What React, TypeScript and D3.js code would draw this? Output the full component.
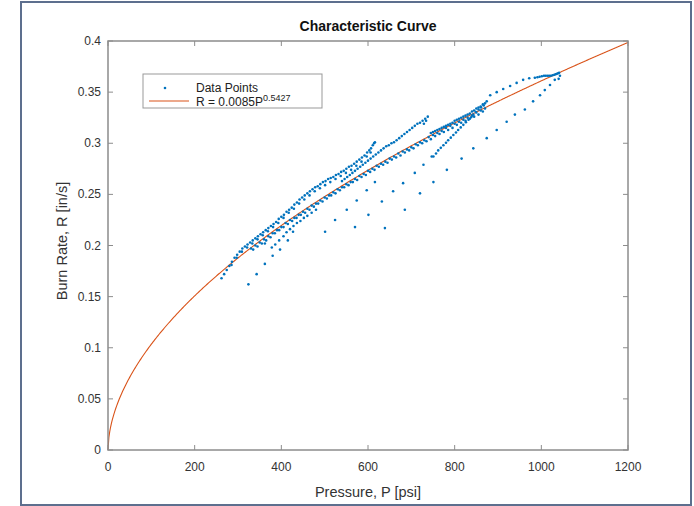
import React from 'react'
import * as d3 from 'd3'

// fit: R = a * P^b
const fitCoef = 0.0085
const fitExp = 0.5427

const xTicks = [0, 200, 400, 600, 800, 1000, 1200]
const yTicks = [0, 0.05, 0.1, 0.15, 0.2, 0.25, 0.3, 0.35, 0.4]

// burn traces, [P psi, R in/s]
const upperBand = [
  [262, 0.168], [268, 0.172], [274, 0.176], [280, 0.18], [286, 0.184], [292, 0.188],
  [298, 0.191], [304, 0.194], [310, 0.197], [316, 0.199], [322, 0.201], [328, 0.203],
  [334, 0.205], [340, 0.207], [346, 0.209], [352, 0.211], [358, 0.213], [364, 0.215],
  [370, 0.217], [376, 0.219], [382, 0.221], [388, 0.223], [394, 0.226], [400, 0.228],
  [406, 0.23], [412, 0.233], [418, 0.235], [424, 0.237], [430, 0.24], [436, 0.242],
  [442, 0.245], [448, 0.247], [454, 0.249], [460, 0.251], [466, 0.253], [472, 0.255],
  [478, 0.257], [484, 0.258], [490, 0.26], [496, 0.262], [502, 0.263], [508, 0.265],
  [514, 0.266], [520, 0.267], [526, 0.269], [532, 0.27], [538, 0.272], [544, 0.273],
  [550, 0.275], [556, 0.277], [562, 0.278], [568, 0.28], [574, 0.282], [580, 0.284],
  [586, 0.286], [592, 0.288], [598, 0.291], [603, 0.293], [607, 0.295], [611, 0.298],
  [614, 0.3], [616, 0.301]
]

const upperBandB = [
  [285, 0.181], [297, 0.188], [309, 0.194], [321, 0.198], [333, 0.202], [345, 0.206],
  [357, 0.21], [369, 0.214], [381, 0.218], [393, 0.222], [405, 0.227], [417, 0.232],
  [429, 0.236], [441, 0.241], [453, 0.245], [465, 0.249], [477, 0.253], [489, 0.256],
  [501, 0.259], [513, 0.262], [525, 0.265], [537, 0.268], [549, 0.271], [561, 0.274],
  [573, 0.278], [585, 0.282], [597, 0.287], [606, 0.291]
]

const mainBand = [
  [330, 0.197], [340, 0.2], [350, 0.203], [360, 0.206], [370, 0.209], [380, 0.212],
  [390, 0.215], [400, 0.218], [410, 0.222], [420, 0.225], [430, 0.227], [440, 0.23],
  [450, 0.233], [460, 0.236], [470, 0.239], [480, 0.241], [490, 0.244], [500, 0.247],
  [510, 0.249], [520, 0.252], [530, 0.255], [540, 0.257], [550, 0.26], [560, 0.262],
  [570, 0.265], [580, 0.268], [590, 0.27], [600, 0.273], [610, 0.275], [620, 0.278],
  [630, 0.28], [640, 0.282], [650, 0.285], [660, 0.287], [670, 0.29], [680, 0.292],
  [690, 0.294], [700, 0.296], [710, 0.299], [720, 0.301], [730, 0.303], [740, 0.306],
  [750, 0.308], [760, 0.31], [770, 0.312], [780, 0.315], [790, 0.317], [800, 0.319],
  [810, 0.321], [820, 0.323], [830, 0.325], [840, 0.327], [850, 0.33], [860, 0.332],
  [870, 0.334]
]

const mainBandB = [
  [335, 0.196], [345, 0.199], [355, 0.202], [365, 0.205], [375, 0.208], [385, 0.212],
  [395, 0.215], [405, 0.218], [415, 0.221], [425, 0.224], [435, 0.227], [445, 0.23],
  [455, 0.232], [465, 0.235], [475, 0.238], [485, 0.241], [495, 0.243], [505, 0.246],
  [515, 0.249], [525, 0.251], [535, 0.254], [545, 0.257], [555, 0.259], [565, 0.262],
  [575, 0.264], [585, 0.267], [595, 0.269], [605, 0.272], [615, 0.274], [625, 0.277],
  [635, 0.279], [645, 0.281], [655, 0.284], [665, 0.286], [675, 0.288], [685, 0.291],
  [695, 0.293], [705, 0.295], [715, 0.298], [725, 0.3], [735, 0.302], [745, 0.304],
  [755, 0.307], [765, 0.309], [775, 0.311], [785, 0.313], [795, 0.315], [805, 0.318],
  [815, 0.32], [825, 0.322], [835, 0.324], [845, 0.326], [855, 0.328], [865, 0.331]
]

const lowCluster = [
  [378, 0.198], [386, 0.201], [395, 0.205], [405, 0.209], [412, 0.213], [420, 0.216],
  [428, 0.219], [436, 0.222], [444, 0.224], [452, 0.227], [460, 0.229], [470, 0.232],
  [480, 0.235]
]

const loop2 = [
  [540, 0.263], [546, 0.265], [552, 0.267], [558, 0.269], [564, 0.271], [570, 0.273],
  [576, 0.275], [582, 0.277], [588, 0.279], [594, 0.281], [600, 0.283], [606, 0.285],
  [612, 0.287], [618, 0.289], [624, 0.291], [630, 0.293], [636, 0.295], [642, 0.297],
  [648, 0.298], [654, 0.3], [660, 0.301], [666, 0.303], [672, 0.305], [678, 0.307],
  [684, 0.309], [690, 0.311], [696, 0.313], [702, 0.315], [708, 0.317], [714, 0.319],
  [720, 0.32], [726, 0.322], [732, 0.324], [738, 0.326], [734, 0.322], [729, 0.319]
]

const loop3 = [
  [745, 0.31], [750, 0.311], [755, 0.312], [760, 0.313], [765, 0.314], [770, 0.315],
  [775, 0.316], [780, 0.317], [785, 0.318], [790, 0.319], [795, 0.32], [800, 0.322],
  [805, 0.323], [810, 0.324], [815, 0.325], [820, 0.326], [825, 0.327], [830, 0.328],
  [835, 0.329], [840, 0.331], [845, 0.332], [850, 0.334], [855, 0.335], [860, 0.336],
  [865, 0.338], [870, 0.339], [874, 0.341]
]

const loop4 = [
  [882, 0.347], [897, 0.35], [912, 0.353], [928, 0.356], [943, 0.359], [958, 0.362],
  [972, 0.3635], [985, 0.364], [991, 0.3645], [996, 0.365], [1001, 0.3655], [1006, 0.366],
  [1010, 0.366], [1014, 0.366], [1018, 0.366], [1022, 0.366], [1026, 0.3665], [1030, 0.367],
  [1033, 0.3675], [1036, 0.368], [1039, 0.3685], [1041, 0.369], [1043, 0.366], [1040, 0.363]
]

const fall1040 = [
  [1031, 0.362], [1020, 0.357], [1008, 0.352], [997, 0.347], [981, 0.341], [962, 0.333],
  [939, 0.328], [920, 0.321], [897, 0.313], [874, 0.305], [843, 0.295], [816, 0.285],
  [782, 0.274], [751, 0.262], [720, 0.251], [685, 0.235], [639, 0.217]
]

const fall870 = [
  [867, 0.337], [861, 0.335], [855, 0.333], [849, 0.3305], [843, 0.328], [838, 0.3255],
  [832, 0.323], [826, 0.3205], [820, 0.318], [814, 0.3155], [808, 0.313], [803, 0.3105],
  [797, 0.308], [791, 0.3055], [785, 0.303], [780, 0.3005], [774, 0.298], [768, 0.2955],
  [762, 0.293], [757, 0.29], [751, 0.287]
]

const fall735 = [
  [747, 0.287], [728, 0.279], [708, 0.271], [681, 0.261], [658, 0.253], [632, 0.243],
  [601, 0.23], [570, 0.218]
]

const fall610 = [
  [616, 0.262], [597, 0.254], [574, 0.244], [551, 0.235], [524, 0.225], [501, 0.2135]
]

const lowLeft = [
  [324, 0.162], [343, 0.172], [362, 0.182], [380, 0.19], [397, 0.196], [415, 0.205],
  [362, 0.202], [427, 0.2135]
]

const traces = [upperBand, upperBandB, mainBand, mainBandB, lowCluster, loop2, loop3, loop4,
  fall1040, fall870, fall735, fall610, lowLeft]

const W = 694
const H = 506
const plot = { left: 108, right: 628, top: 41, bottom: 450 }
const font = '"Liberation Sans", Arial, Helvetica, sans-serif'

export default function App() {
  const x = d3.scaleLinear().domain([0, 1200]).range([plot.left, plot.right])
  const y = d3.scaleLinear().domain([0, 0.4]).range([plot.bottom, plot.top])

  const fitP = d3.range(0, 1200.5, 2)
  const fitLine = d3
    .line<number>()
    .x(p => x(p))
    .y(p => y(fitCoef * Math.pow(p, fitExp)))

  const points = traces.flat()
  const axisColor = '#8c8c8c'
  const tickLen = 5

  return (
    <svg width={W} height={H} style={{ position: 'absolute', left: 0, top: 0, background: '#fff' }}>
      <rect x={21} y={2} width={670} height={503} fill="#fff" stroke="#5d6f8e" strokeWidth={2} />

      <text x={368} y={31} textAnchor="middle" fontFamily={font} fontSize={14} fontWeight="bold" fill="#111">
        Characteristic Curve
      </text>

      {/* fitted curve */}
      <path d={fitLine(fitP) || ''} fill="none" stroke="#D95319" strokeWidth={1.1} />

      {/* data */}
      {points.map((d, i) => (
        <circle key={i} cx={x(d[0])} cy={y(d[1])} r={1.3} fill="#0072BD" />
      ))}

      {/* axes box */}
      <rect x={plot.left} y={plot.top} width={plot.right - plot.left} height={plot.bottom - plot.top}
        fill="none" stroke={axisColor} strokeWidth={1.5} />

      {xTicks.map(t => (
        <g key={'x' + t}>
          <line x1={x(t)} x2={x(t)} y1={plot.bottom} y2={plot.bottom - tickLen} stroke={axisColor} />
          <line x1={x(t)} x2={x(t)} y1={plot.top} y2={plot.top + tickLen} stroke={axisColor} />
          <text x={x(t)} y={plot.bottom + 21} textAnchor="middle" fontFamily={font} fontSize={12} fill="#333">
            {t}
          </text>
        </g>
      ))}

      {yTicks.map(t => (
        <g key={'y' + t}>
          <line x1={plot.left} x2={plot.left + tickLen} y1={y(t)} y2={y(t)} stroke={axisColor} />
          <line x1={plot.right} x2={plot.right - tickLen} y1={y(t)} y2={y(t)} stroke={axisColor} />
          <text x={plot.left - 7} y={y(t) + 4} textAnchor="end" fontFamily={font} fontSize={12} fill="#333">
            {String(t)}
          </text>
        </g>
      ))}

      <text x={368} y={497} textAnchor="middle" fontFamily={font} fontSize={14.5} fill="#333">
        Pressure, P [psi]
      </text>
      <text transform={`translate(67,241) rotate(-90)`} textAnchor="middle" fontFamily={font} fontSize={14.5} fill="#333">
        Burn Rate, R [in/s]
      </text>

      {/* legend */}
      <g>
        <rect x={143} y={74} width={179} height={34} fill="#fff" stroke="#999" strokeWidth={1} />
        <circle cx={165} cy={88} r={1.3} fill="#0072BD" />
        <line x1={149} x2={189} y1={101} y2={101} stroke="#D95319" strokeWidth={1.1} />
        <text x={196} y={92} fontFamily={font} fontSize={12} fill="#222">Data Points</text>
        <text x={196} y={105.5} fontFamily={font} fontSize={12} fill="#222">
          R = 0.0085P<tspan fontSize={9} dy={-5}>0.5427</tspan>
        </text>
      </g>
    </svg>
  )
}
